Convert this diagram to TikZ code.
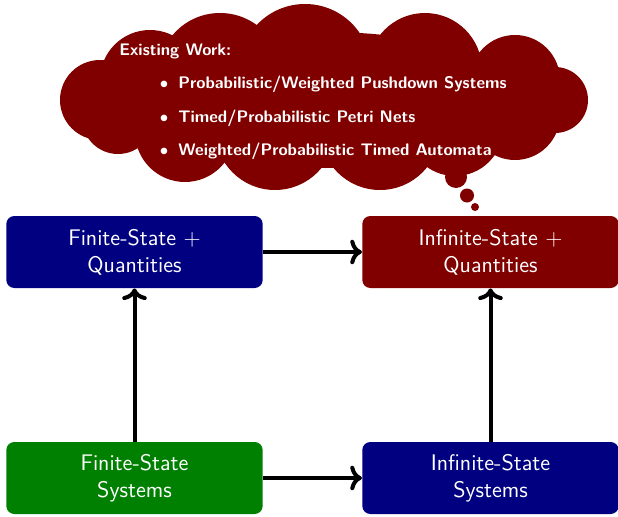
\documentclass[tikz,border=0pt]{standalone}
\usetikzlibrary{arrows.meta}
\definecolor{navy}{RGB}{0,0,128}
\definecolor{maroon}{RGB}{128,0,0}
\definecolor{leaf}{RGB}{0,128,0}
\begin{document}
\begin{tikzpicture}[x=0.55pt,y=-0.55pt,
  box/.style={rounded corners=4.4pt, minimum width=141pt, minimum height=39.6pt,
    text=white, font=\sffamily\fontsize{12.4}{14.8}\selectfont, align=center, inner sep=0pt},
  link/.style={line width=2.2pt, ->},
  cloudtext/.style={text=white, font=\sffamily\bfseries\fontsize{9.2}{11}\selectfont,
    anchor=base west, inner sep=0pt}]
\useasboundingbox (0,0) rectangle (618,516);

% thought cloud: a body with puffs round it, and the trailing bubbles
\fill[maroon]
  (325,100) ellipse[x radius=200, y radius=68]
  (100,100) circle[radius=40]
  (118,118) circle[radius=36]
  (185,132) circle[radius=50]
  (275,130) circle[radius=60]
  (380,130) circle[radius=60]
  (455,128) circle[radius=48]
  (515,115) circle[radius=45]
  (555,100) circle[radius=33]
  (515,80)  circle[radius=45]
  (425,70)  circle[radius=57]
  (305,70)  circle[radius=66]
  (220,75)  circle[radius=62]
  (150,80)  circle[radius=50];
\fill[maroon] (456,177) circle[radius=11] (467,195.5) circle[radius=7] (475,207) circle[radius=4];

\node[cloudtext] (ew) at (119,56) {Existing Work:};
\node[cloudtext, anchor=base] (b1) at (164,89) {$\bullet$};
\node[cloudtext, anchor=base] (b2) at (164,122) {$\bullet$};
\node[cloudtext, anchor=base] (b3) at (164,155) {$\bullet$};
\node[cloudtext] (i1) at (178,89) {Probabilistic/Weighted Pushdown Systems};
\node[cloudtext] (i2) at (178,122) {Timed/Probabilistic Petri Nets};
\node[cloudtext] (i3) at (178,155) {Weighted/Probabilistic Timed Automata};

% the four boxes
\node[box, fill=navy]   (fq) at (134.5,252) {Finite-State +\\Quantities};
\node[box, fill=maroon] (iq) at (490.5,252) {Infinite-State +\\Quantities};
\node[box, fill=leaf]   (fs) at (134.5,478) {Finite-State\\Systems};
\node[box, fill=navy]   (is) at (490.5,478) {Infinite-State\\Systems};

% connectors
\draw[link] (fq) -- (iq);
\draw[link] (fs) -- (is);
\draw[link] (fs) -- (fq);
\draw[link] (is) -- (iq);
\end{tikzpicture}
\end{document}
